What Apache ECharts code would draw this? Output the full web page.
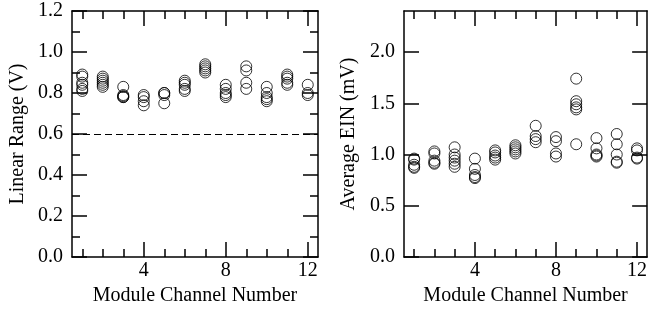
<!DOCTYPE html>
<html>
<head>
<meta charset="utf-8">
<script src="https://cdn.jsdelivr.net/npm/echarts@6/dist/echarts.min.js"></script>
<style>
html,body{margin:0;padding:0;background:#fff;}
#c{width:650px;height:314px;}
</style>
</head>
<body>
<div id="c"></div>
<script>
// ---- data ----
const channels = [1,2,3,4,5,6,7,8,9,10,11,12];
const xTickLabels = [4, 8, 12];
const leftYTickLabels = [0, 0.2, 0.4, 0.6, 0.8, 1.0, 1.2];
const rightYTickLabels = [0, 0.5, 1.0, 1.5, 2.0];
const linearRangeLimit = 0.6;
// Linear range (V) per module channel, one list per channel
const linearRange = [
  [0.89, 0.88, 0.85, 0.84, 0.82, 0.81],
  [0.88, 0.87, 0.86, 0.85, 0.84, 0.83],
  [0.83, 0.79, 0.785, 0.78, 0.78],
  [0.79, 0.78, 0.76, 0.74],
  [0.80, 0.80, 0.79, 0.75],
  [0.86, 0.85, 0.84, 0.82, 0.81],
  [0.94, 0.93, 0.92, 0.91, 0.90],
  [0.84, 0.82, 0.80, 0.79, 0.78],
  [0.93, 0.91, 0.85, 0.82],
  [0.83, 0.80, 0.78, 0.77, 0.76],
  [0.89, 0.88, 0.87, 0.85, 0.84],
  [0.84, 0.80, 0.79]
];
// Average EIN (mV) per module channel
const averageEIN = [
  [0.96, 0.95, 0.90, 0.88, 0.87],
  [1.03, 1.01, 0.94, 0.92, 0.91],
  [1.07, 1.00, 0.97, 0.94, 0.91, 0.88],
  [0.96, 0.86, 0.80, 0.78, 0.77],
  [1.04, 1.02, 0.99, 0.97, 0.95],
  [1.09, 1.07, 1.05, 1.03, 1.01],
  [1.28, 1.18, 1.15, 1.12],
  [1.17, 1.13, 1.01, 0.98],
  [1.74, 1.52, 1.49, 1.46, 1.44, 1.10],
  [1.16, 1.06, 1.00, 0.99, 0.98],
  [1.20, 1.10, 1.00, 0.93, 0.92],
  [1.06, 1.04, 0.97, 0.96]
];

const toPoints = (arr) => arr.flatMap((vals, i) => vals.map(v => [channels[i], v]));

const FONT = 'Liberation Serif';
const FS = 20;
const BLACK = '#000';
const lineStyle = {color: BLACK, width: 1.5};

function xAxesFor(gridIndex) {
  const base = {type: 'value', gridIndex, min: 0.5, max: 12.5, splitLine: {show: false}};
  return [
    Object.assign({}, base, {
      position: 'bottom',
      axisLine: {show: true, lineStyle},
      axisTick: {show: true, inside: true, length: 8, lineStyle, customValues: channels},
      axisLabel: {show: true, customValues: xTickLabels, margin: 4,
        fontFamily: FONT, fontSize: FS, color: BLACK},
      name: 'Module Channel Number', nameLocation: 'middle', nameGap: 28,
      nameTextStyle: {fontFamily: FONT, fontSize: FS, color: BLACK}
    }),
    Object.assign({}, base, {
      position: 'bottom',
      axisLine: {show: false},
      axisTick: {show: true, inside: true, length: 15, lineStyle, customValues: xTickLabels},
      axisLabel: {show: false}
    }),
    Object.assign({}, base, {
      position: 'top',
      axisLine: {show: true, lineStyle},
      axisTick: {show: true, inside: true, length: 8, lineStyle, customValues: channels},
      axisLabel: {show: false}
    }),
    Object.assign({}, base, {
      position: 'top',
      axisLine: {show: false},
      axisTick: {show: true, inside: true, length: 15, lineStyle, customValues: xTickLabels},
      axisLabel: {show: false}
    })
  ];
}

const leftY = (pos, withLabels) => ({
  type: 'value', gridIndex: 0, position: pos, min: 0, max: 1.2, interval: 0.2,
  splitLine: {show: false},
  axisLine: {show: true, lineStyle},
  axisTick: {show: true, inside: true, length: 15, lineStyle},
  minorTick: {show: true, splitNumber: 2, length: 8, lineStyle},
  axisLabel: {show: withLabels, customValues: leftYTickLabels, margin: 9,
    fontFamily: FONT, fontSize: FS, color: BLACK, formatter: v => v.toFixed(1)},
  name: withLabels ? 'Linear Range (V)' : '', nameLocation: 'middle', nameGap: 44,
  nameTextStyle: {fontFamily: FONT, fontSize: FS, color: BLACK}
});

const rightY = (pos, withLabels) => ({
  type: 'value', gridIndex: 1, position: pos, min: 0, max: 2.4,
  splitLine: {show: false},
  axisLine: {show: true, lineStyle},
  axisTick: {show: true, inside: true, length: 15, lineStyle, customValues: rightYTickLabels},
  axisLabel: {show: withLabels, customValues: rightYTickLabels, margin: 9,
    fontFamily: FONT, fontSize: FS, color: BLACK, formatter: v => v.toFixed(1)},
  name: withLabels ? 'Average EIN (mV)' : '', nameLocation: 'middle', nameGap: 45,
  nameTextStyle: {fontFamily: FONT, fontSize: FS, color: BLACK}
});

const circleStyle = {color: 'rgba(0,0,0,0)', borderColor: BLACK, borderWidth: 1};

const option = {
  animation: false,
  backgroundColor: '#fff',
  grid: [
    {left: 72, top: 11, width: 246, height: 246},
    {left: 404, top: 11, width: 245, height: 246}
  ],
  xAxis: [...xAxesFor(0), ...xAxesFor(1)],
  yAxis: [leftY('left', true), leftY('right', false), rightY('left', true), rightY('right', false)],
  series: [
    {
      type: 'scatter', xAxisIndex: 0, yAxisIndex: 0,
      symbol: 'circle', symbolSize: 11, itemStyle: circleStyle,
      data: toPoints(linearRange),
      markLine: {
        silent: true, symbol: 'none', label: {show: false},
        lineStyle: {color: BLACK, type: [7, 4], width: 1},
        data: [{yAxis: linearRangeLimit}]
      }
    },
    {
      type: 'scatter', xAxisIndex: 4, yAxisIndex: 2,
      symbol: 'circle', symbolSize: 11, itemStyle: circleStyle,
      data: toPoints(averageEIN)
    }
  ]
};

const chart = echarts.init(document.getElementById('c'), null, {renderer: 'canvas'});
chart.setOption(option);
</script>
</body>
</html>
